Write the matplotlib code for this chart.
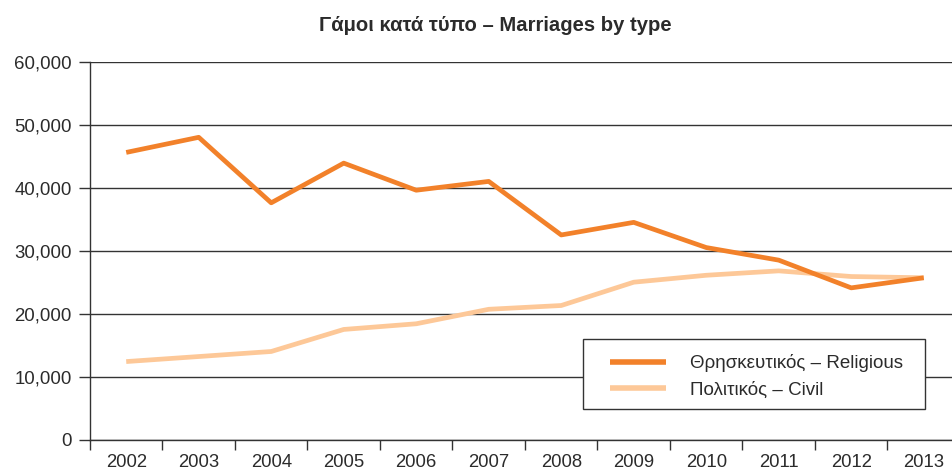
import numpy as np
import matplotlib.pyplot as plt
from matplotlib.patches import Rectangle
from matplotlib.ticker import FuncFormatter, FixedLocator

plt.rcParams['font.family'] = ['Liberation Sans', 'DejaVu Sans']

years = ['2002', '2003', '2004', '2005', '2006', '2007',
         '2008', '2009', '2010', '2011', '2012', '2013']
religious = [45600, 48000, 37600, 43900, 39600, 41000,
             32500, 34500, 30500, 28500, 24100, 25700]
civil = [12400, 13200, 14000, 17500, 18400, 20700,
         21300, 25000, 26100, 26800, 25900, 25700]

text_col = '#2b2b2b'
line_col = '#333333'

fig = plt.figure(figsize=(9.52, 4.70), dpi=100)
ax = fig.add_axes([0.0945, 0.0645, 0.9055, 0.8042])

x = np.arange(len(years))
ax.plot(x, religious, color='#f2812a', lw=3.4, solid_capstyle='butt',
        label='Θρησκευτικός – Religious', zorder=3)
ax.plot(x, civil, color='#fdc898', lw=3.4, solid_capstyle='butt',
        label='Πολιτικός – Civil', zorder=2)

ax.set_ylim(0, 60000)
ax.set_xlim(-0.5, -0.5 + 862 / 72.5)
ax.set_yticks(range(0, 60001, 10000))
ax.yaxis.set_major_formatter(FuncFormatter(lambda v, p: f'{int(v):,}'))
ax.grid(axis='y', color=line_col, lw=1.0)
ax.set_axisbelow(True)

# labels at centres, tick marks on category boundaries
ax.set_xticks(x)
ax.set_xticklabels(years)
ax.xaxis.set_minor_locator(FixedLocator(np.arange(-0.5, 12, 1)))
ax.tick_params(axis='x', which='major', length=0, pad=10,
               labelsize=13.3, labelcolor=text_col)
ax.tick_params(axis='x', which='minor', length=7.5, width=1.0, color=line_col)
ax.tick_params(axis='y', length=8, width=1.0, color=line_col, pad=5,
               labelsize=13.4, labelcolor=text_col)

for s in ['top', 'right']:
    ax.spines[s].set_visible(False)
for s in ['left', 'bottom']:
    ax.spines[s].set_color(line_col)
    ax.spines[s].set_linewidth(1.0)

# legend box drawn separately so its padding can match
box = Rectangle((0.572, 0.081), 0.3967, 0.1854, transform=ax.transAxes,
                facecolor='white', edgecolor=line_col, lw=1.0, zorder=4)
ax.add_patch(box)
leg = ax.legend(loc='center', bbox_to_anchor=(0.773, 0.167),
                fontsize=13.5, frameon=False,
                handlelength=3.0, handletextpad=1.3, borderpad=0.3,
                labelspacing=0.5, borderaxespad=0, labelcolor=text_col)
leg.set_zorder(5)
for ln in leg.get_lines():
    ln.set_linewidth(4)

fig.text(0.52, 0.945, 'Γάμοι κατά τύπο – Marriages by type',
         ha='center', va='center', fontsize=14.6, fontweight='bold',
         color=text_col)

fig.savefig('out.png', dpi=100)
